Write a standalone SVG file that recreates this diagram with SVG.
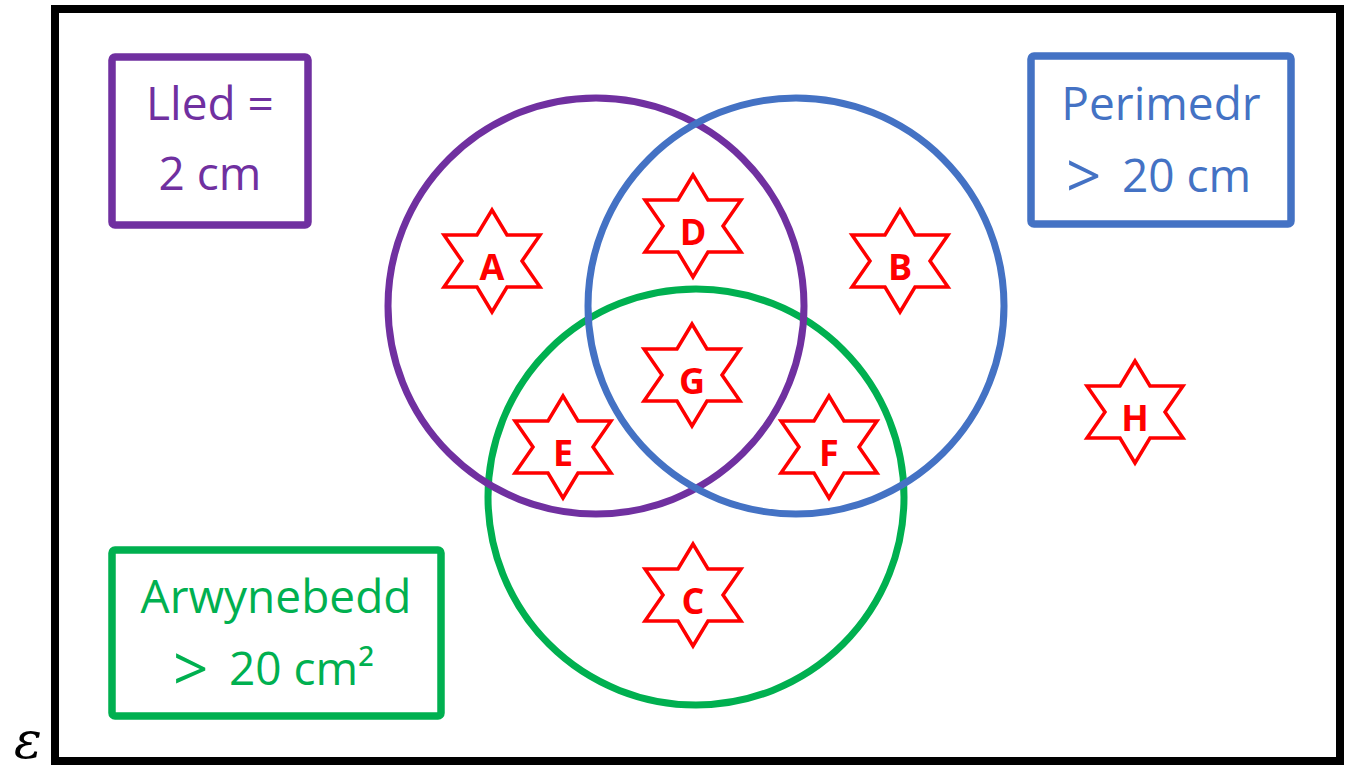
<svg xmlns="http://www.w3.org/2000/svg" xmlns:xlink="http://www.w3.org/1999/xlink" width="1345" height="765" viewBox="0 0 1345 765">
<style>
.frame{fill:none;stroke:#000;stroke-width:8}
.circ{fill:none;stroke-width:7}
.box{fill:#fff;stroke-width:7.5}
.lbl{font-family:"Open Sans","Noto Sans","Liberation Sans",sans-serif;font-size:46px;text-anchor:middle}
.lbs{font-family:"Open Sans","Noto Sans","Liberation Sans",sans-serif;font-size:46px;text-anchor:start}
.gt{font-family:"Open Sans","Noto Sans","Liberation Sans",sans-serif;font-size:62px;text-anchor:start}
.star{fill:#fff;stroke:#FF0000;stroke-width:3.5;stroke-linejoin:miter}
.sl{font-family:"Open Sans","Liberation Sans",sans-serif;font-weight:700;font-size:36px;fill:#FF0000;text-anchor:middle}
.eps{font-family:"DejaVu Serif","Liberation Serif",serif;font-style:italic;font-size:52px;fill:#000}
</style>
<defs>
<polygon id="hex" points="0,-51 15,-26 48,-26 30,0 48,26 15,26 0,51 -15,26 -48,26 -30,0 -48,-26 -15,-26"/>
</defs>
<rect width="1345" height="765" fill="#fff"/>
<rect id="universe" class="frame" x="55" y="9" width="1285" height="752"/>
<text id="epsilon" class="eps" x="14" y="758">ε</text>
<g id="sets">
<circle id="set-area" class="circ" cx="696" cy="497" r="208" stroke="#00B050"/>
<circle id="set-side" class="circ" cx="596" cy="306" r="208" stroke="#7030A0"/>
<circle id="set-perimeter" class="circ" cx="796" cy="306" r="208" stroke="#4472C4"/>
</g>
<g id="label-side">
<rect class="box" x="112" y="57" width="196" height="168" rx="3" stroke="#7030A0"/>
<text class="lbl" fill="#7030A0" x="210" y="120">Lled =</text>
<text class="lbl" fill="#7030A0" x="210" y="190">2 cm</text>
</g>
<g id="label-perimeter">
<rect class="box" x="1031" y="56" width="260" height="168" rx="3" stroke="#4472C4"/>
<text class="lbl" fill="#4472C4" x="1161" y="120">Perimedr</text>
<text fill="#4472C4"><tspan class="gt" x="1066" y="198">&gt;</tspan><tspan class="lbs" x="1122" y="192">20 cm</tspan></text>
</g>
<g id="label-area">
<rect class="box" x="112" y="550" width="329" height="166" rx="3" stroke="#00B050"/>
<text class="lbl" fill="#00B050" x="276" y="613">Arwynebedd</text>
<text fill="#00B050"><tspan class="gt" x="173" y="691">&gt;</tspan><tspan class="lbs" x="229" y="685">20 cm²</tspan></text>
</g>
<g id="star-A"><use xlink:href="#hex" class="star" x="492" y="261"/><text class="sl" x="492" y="280">A</text></g>
<g id="star-B"><use xlink:href="#hex" class="star" x="900" y="261"/><text class="sl" x="900" y="280">B</text></g>
<g id="star-C"><use xlink:href="#hex" class="star" x="693" y="595"/><text class="sl" x="693" y="614">C</text></g>
<g id="star-D"><use xlink:href="#hex" class="star" x="693" y="226"/><text class="sl" x="693" y="245">D</text></g>
<g id="star-E"><use xlink:href="#hex" class="star" x="563" y="447"/><text class="sl" x="563" y="466">E</text></g>
<g id="star-F"><use xlink:href="#hex" class="star" x="829" y="447"/><text class="sl" x="829" y="466">F</text></g>
<g id="star-G"><use xlink:href="#hex" class="star" x="692" y="375"/><text class="sl" x="692" y="394">G</text></g>
<g id="star-H"><use xlink:href="#hex" class="star" x="1135" y="412"/><text class="sl" x="1135" y="431">H</text></g>
<g id="connectors"/>
</svg>
